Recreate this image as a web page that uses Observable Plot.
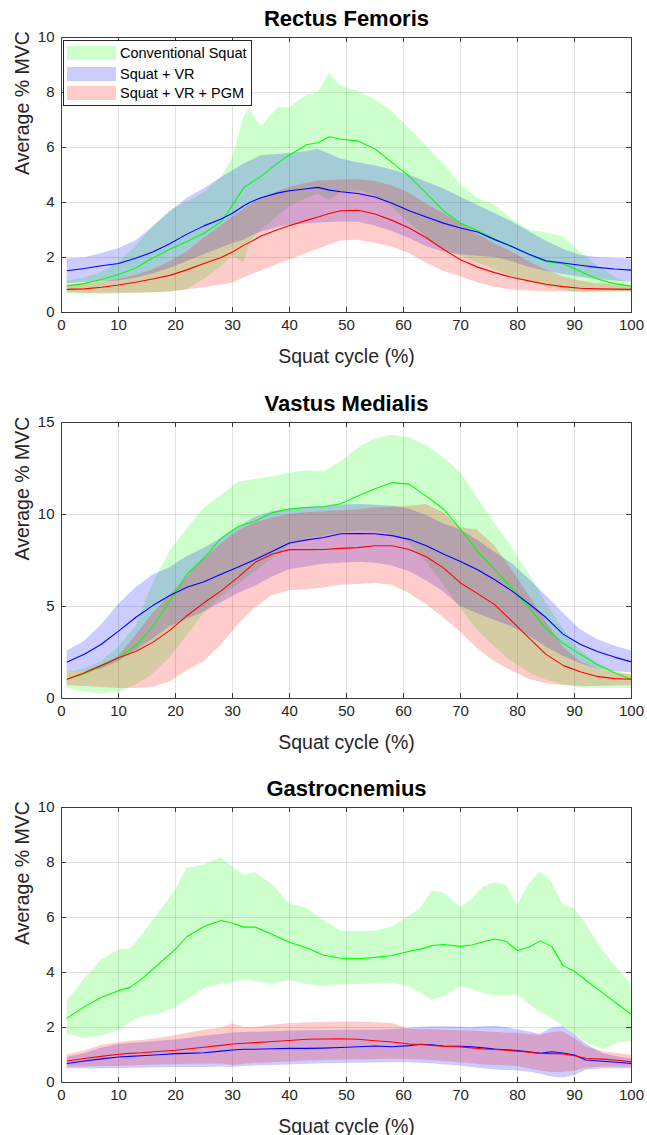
<!DOCTYPE html>
<html><head><meta charset="utf-8">
<script src="https://cdn.jsdelivr.net/npm/d3@7"></script>
<script src="https://cdn.jsdelivr.net/npm/@observablehq/plot@0.6"></script>
<style>
body{margin:0;background:#fff;width:647px;height:1135px;overflow:hidden;}
.panel{position:relative;width:647px;}
.panel svg{display:block;}
.legend{position:absolute;left:63px;top:40px;width:189px;height:66px;border:1px solid #262626;background:#fff;box-sizing:border-box;font:14.5px "Liberation Sans",Arial,sans-serif;color:#000;}
.legend .row{position:absolute;left:3px;height:15px;display:flex;align-items:center;white-space:nowrap;}
.legend .sw{width:49px;height:14px;margin-right:4px;flex:none;}
</style></head><body>
<div id="charts"></div>
<script>
// ---------- shared ----------
const seriesNames = ["Conventional Squat", "Squat + VR", "Squat + VR + PGM"];
const seriesColors = ["#00ff00", "#0000ff", "#ff0000"];
const xTicks = [0, 10, 20, 30, 40, 50, 60, 70, 80, 90, 100];
const xLabel = "Squat cycle (%)";
const yLabel = "Average % MVC";

// ---------- Rectus Femoris ----------
const rfX = [1,4,7,10,13,16,19,22,25,28,30,32,33,35,38,40,43,45,47,49,52,55,58,61,64,67,70,73,76,79,82,85,88,91,94,97,100];
const rfCsMean = [0.96,1.06,1.2,1.38,1.62,1.98,2.3,2.58,2.88,3.3, 3.9,4.55,4.68,4.95,5.45,5.73,6.1,6.17,6.39,6.3, 6.24,5.95,5.45,4.95,4.33,3.7,3.25,2.97,2.67,2.4, 2.12,1.85,1.77,1.5,1.22,1.05,0.96];
const rfCsHi = [1.15,1.25,1.45,1.8,2.4,3.1,3.7,4.0,4.35,4.9, 5.6,7.1,7.4,6.75,7.45,7.45,7.9,7.98,8.7,8.22, 8.05,7.75,7.3,6.7,6.05,5.4,4.65,4.15,3.9,3.4, 3.0,2.9,2.75,2.2,1.7,1.3,1.05];
const rfCsLo = [0.7,0.65,0.65,0.68,0.7,0.72,0.75,0.82,1.2,1.65, 2.05,1.8,2.5,3.0,3.5,3.85,4.15,4.3,4.07,4.35, 4.45,4.25,3.83,3.25,2.75,2.3,2.05,1.8,1.55,1.3, 1.1,0.95,0.8,0.72,0.75,0.75,0.75];
const rfVrMean = [1.52,1.6,1.7,1.78,1.97,2.2,2.5,2.85,3.15,3.4, 3.61,3.88,4.0,4.17,4.35,4.43,4.5,4.55,4.45,4.39, 4.33,4.2,3.97,3.7,3.47,3.25,3.07,2.93,2.65,2.4, 2.12,1.88,1.8,1.72,1.64,1.58,1.54];
const rfVrHi = [1.95,1.98,2.15,2.32,2.6,3.1,3.65,4.15,4.5,4.9, 5.15,5.4,5.5,5.7,5.75,5.78,5.85,5.94,5.76,5.58, 5.45,5.34,5.18,5.0,4.75,4.5,4.19,3.9,3.6,3.3, 2.95,2.6,2.3,2.08,2.0,1.96,1.95];
const rfVrLo = [1.05,1.1,1.12,1.15,1.25,1.4,1.6,1.85,2.1,2.35, 2.5,2.63,2.75,2.92,3.1,3.17,3.22,3.25,3.27,3.29, 3.28,3.15,2.95,2.7,2.4,2.2,2.1,2.05,2.0,1.85, 1.65,1.5,1.38,1.28,1.2,1.15,1.1];
const rfPgmMean = [0.84,0.86,0.92,1.0,1.1,1.22,1.35,1.55,1.78,2.0, 2.2,2.45,2.55,2.78,3.02,3.16,3.35,3.47,3.6,3.7, 3.72,3.58,3.35,3.07,2.72,2.3,1.92,1.65,1.45,1.28, 1.15,1.03,0.94,0.88,0.86,0.85,0.84];
const rfPgmHi = [1.0,1.05,1.1,1.2,1.35,1.55,1.85,2.2,2.7,3.15, 3.47,3.75,3.9,4.13,4.4,4.55,4.7,4.78,4.8,4.82, 4.83,4.77,4.6,4.35,3.95,3.6,3.23,2.85,2.5,2.2, 1.85,1.55,1.3,1.15,1.05,1.0,0.98];
const rfPgmLo = [0.72,0.7,0.7,0.7,0.7,0.72,0.75,0.82,0.9,1.0, 1.06,1.25,1.35,1.5,1.75,1.9,2.15,2.3,2.45,2.6, 2.63,2.52,2.38,2.15,1.8,1.5,1.3,1.08,0.92,0.82, 0.78,0.75,0.75,0.75,0.75,0.75,0.75];
const rfYTicks = [0, 2, 4, 6, 8, 10];

// ---------- Vastus Medialis ----------
const vmX = [1,4,7,10,13,16,19,22,25,28,31,34,37,40,43,46,49,52,55,58,61,64,67,70,73,76,79,82,85,88,91,94,97,100];
const vmCsMean = [1.05,1.35,1.75,2.22,2.85,3.9,5.3,6.75,7.65,8.7, 9.35,9.65,10.1,10.3,10.38,10.42,10.58,11.0,11.4,11.73, 11.65,11.0,10.3,9.2,8.0,7.0,6.0,4.95,3.8,3.0, 2.4,1.85,1.4,1.05];
const vmCsHi = [1.4,1.6,2.0,2.8,3.9,6.2,8.0,9.2,10.35,11.0, 11.75,11.9,12.05,12.24,12.38,12.33,12.85,13.6,14.1,14.31, 14.18,13.75,13.1,12.3,10.9,9.53,8.2,6.8,5.2,3.8, 2.6,1.9,1.5,1.25];
const vmCsLo = [0.55,0.35,0.25,0.32,0.7,1.3,2.2,3.4,4.6,5.5, 6.2,6.9,7.6,8.3,8.7,8.85,9.0,9.1,9.1,8.9, 8.4,7.4,6.2,4.9,3.7,2.8,2.0,1.4,1.0,0.75, 0.6,0.55,0.55,0.55];
const vmVrMean = [1.99,2.4,2.95,3.66,4.4,5.05,5.6,6.05,6.35,6.75, 7.15,7.55,8.0,8.45,8.62,8.75,8.95,8.97,8.95,8.85, 8.65,8.3,7.85,7.45,7.0,6.45,5.85,5.15,4.4,3.5, 2.95,2.55,2.25,1.99];
const vmVrHi = [2.58,3.1,4.0,5.1,6.0,6.7,7.1,7.7,8.15,8.7, 9.3,9.85,10.15,10.3,10.4,10.43,10.52,10.55,10.5,10.45, 10.3,9.95,9.5,9.17,8.6,7.95,7.35,6.5,5.6,4.65, 3.75,3.2,2.85,2.58];
const vmVrLo = [1.4,1.45,1.6,2.0,2.6,3.2,3.9,4.3,4.7,5.2, 5.7,6.1,6.6,7.0,7.15,7.3,7.35,7.4,7.35,7.2, 6.9,6.4,5.8,5.0,4.6,4.25,3.9,3.4,2.8,2.3, 1.9,1.6,1.45,1.4];
const vmPgmMean = [1.05,1.4,1.8,2.22,2.55,3.05,3.7,4.5,5.2,5.85, 6.6,7.4,7.85,8.09,8.09,8.1,8.16,8.2,8.3,8.3, 8.1,7.7,7.1,6.28,5.7,5.1,4.2,3.3,2.4,1.8, 1.45,1.2,1.08,1.05];
const vmPgmHi = [1.4,1.45,1.7,2.3,3.4,4.6,5.6,6.6,7.6,8.4, 9.1,9.55,9.8,10.0,10.1,10.15,10.2,10.25,10.35,10.4, 10.45,10.55,10.1,9.3,9.15,8.3,7.0,5.6,4.2,2.8, 2.0,1.6,1.4,1.3];
const vmPgmLo = [0.7,0.65,0.6,0.55,0.55,0.6,0.9,1.5,2.0,2.9, 4.0,4.9,5.6,5.85,5.9,6.0,6.15,6.2,6.25,6.15, 5.7,5.1,4.4,3.6,2.7,2.0,1.5,1.05,0.8,0.7, 0.65,0.65,0.68,0.7];
const vmYTicks = [0, 5, 10, 15];

// ---------- Gastrocnemius ----------
const gaX = [1,4,7,10,12,14,17,20,22,25,28,30,32,34,37,40,43,46,49,52,55,58,61,63,65,67,70,72,74,76,78,80,82,84,86,88,90,92,95,98,100];
const gaCsMean = [2.35,2.75,3.1,3.34,3.46,3.75,4.3,4.85,5.3,5.67, 5.89,5.79,5.65,5.65,5.38,5.1,4.9,4.63,4.52,4.5, 4.55,4.62,4.77,4.85,4.98,5.02,4.95,5.0,5.12,5.22, 5.13,4.8,4.92,5.15,4.95,4.25,4.04,3.72,3.25,2.78, 2.47];
const gaCsHi = [2.96,3.75,4.45,4.83,4.85,5.31,6.15,6.97,7.78,7.92, 8.17,7.84,7.54,7.64,7.2,6.5,6.33,5.9,5.5,5.49, 5.5,5.65,6.05,6.33,6.96,6.9,6.36,6.65,7.1,7.27, 7.18,6.45,7.2,7.66,7.3,6.45,6.33,5.76,4.8,4.04, 3.56];
const gaCsLo = [1.75,1.6,1.69,1.87,2.17,2.4,2.48,2.71,3.0,3.4, 3.57,3.62,3.74,3.68,3.58,3.7,3.56,3.5,3.55,3.56, 3.58,3.62,3.48,3.26,2.99,3.1,3.5,3.38,3.24,3.16, 3.15,3.2,2.85,2.55,2.35,2.05,1.75,1.45,1.2,1.45, 1.5];
const gaVrMean = [0.69,0.78,0.86,0.93,0.95,0.97,1.01,1.05,1.06,1.08, 1.14,1.18,1.21,1.21,1.23,1.24,1.24,1.25,1.27,1.3, 1.33,1.3,1.34,1.39,1.37,1.33,1.32,1.3,1.26,1.22, 1.19,1.16,1.12,1.06,1.12,1.07,1.0,0.82,0.77,0.73, 0.69];
const gaVrHi = [0.92,1.05,1.25,1.38,1.42,1.45,1.5,1.55,1.6,1.68, 1.75,1.8,1.82,1.83,1.85,1.87,1.88,1.88,1.9,1.9, 1.9,1.93,1.96,2.01,2.03,2.03,2.02,2.0,2.03,2.05, 2.0,1.92,1.85,1.75,1.98,2.04,1.75,1.4,1.05,0.92, 0.86];
const gaVrLo = [0.5,0.5,0.5,0.5,0.52,0.52,0.54,0.55,0.55,0.55, 0.56,0.55,0.58,0.6,0.62,0.64,0.66,0.68,0.69,0.7, 0.71,0.72,0.72,0.7,0.68,0.65,0.6,0.55,0.5,0.46, 0.44,0.42,0.38,0.3,0.2,0.16,0.25,0.45,0.5,0.5, 0.5];
const gaPgmMean = [0.78,0.87,0.95,1.03,1.06,1.08,1.13,1.17,1.22,1.28, 1.35,1.4,1.43,1.45,1.49,1.53,1.57,1.58,1.59,1.57, 1.52,1.47,1.4,1.38,1.35,1.32,1.29,1.26,1.22,1.2, 1.17,1.14,1.1,1.06,1.05,1.04,0.97,0.88,0.85,0.8, 0.75];
const gaPgmHi = [1.0,1.15,1.35,1.45,1.5,1.53,1.6,1.7,1.78,1.9, 1.97,2.14,2.0,2.01,2.08,2.14,2.16,2.18,2.2,2.2, 2.17,2.15,1.95,1.92,1.92,1.9,1.88,1.87,1.85,1.83, 1.8,1.78,1.75,1.72,1.82,1.85,1.6,1.3,1.12,1.05, 0.98];
const gaPgmLo = [0.56,0.56,0.58,0.58,0.6,0.62,0.64,0.65,0.66,0.66, 0.67,0.62,0.66,0.7,0.72,0.75,0.78,0.8,0.82,0.83, 0.84,0.85,0.84,0.82,0.8,0.76,0.72,0.68,0.64,0.62, 0.6,0.58,0.5,0.42,0.36,0.36,0.42,0.52,0.56,0.56, 0.56];
const gaYTicks = [0, 2, 4, 6, 8, 10];

// ---------- build ----------
function rows(xs, mean, lo, hi) {
  return xs.map((x, i) => ({x, mean: mean[i], lo: lo[i], hi: hi[i]}));
}

const panels = [
  {title: "Rectus Femoris", yTicks: rfYTicks, height: 385, bottom: 73, legend: true,
   groups: [rows(rfX, rfCsMean, rfCsLo, rfCsHi), rows(rfX, rfVrMean, rfVrLo, rfVrHi), rows(rfX, rfPgmMean, rfPgmLo, rfPgmHi)]},
  {title: "Vastus Medialis", yTicks: vmYTicks, height: 385, bottom: 72,
   groups: [rows(vmX, vmCsMean, vmCsLo, vmCsHi), rows(vmX, vmVrMean, vmVrLo, vmVrHi), rows(vmX, vmPgmMean, vmPgmLo, vmPgmHi)]},
  {title: "Gastrocnemius", yTicks: gaYTicks, height: 365, bottom: 53,
   groups: [rows(gaX, gaCsMean, gaCsLo, gaCsHi), rows(gaX, gaVrMean, gaVrLo, gaVrHi), rows(gaX, gaPgmMean, gaPgmLo, gaPgmHi)]}
];

const W = 647, ML = 61, MR = 16, MT = 37;
const axisColor = "#3c3c3c";
const container = document.getElementById("charts");

for (const p of panels) {
  const H = p.height - MT - p.bottom;
  const IW = W - ML - MR;
  const yMax = p.yTicks[p.yTicks.length - 1];
  const chart = Plot.plot({
    width: W, height: p.height,
    marginLeft: ML, marginRight: MR, marginTop: MT, marginBottom: p.bottom,
    x: {domain: [0, 100]},
    y: {domain: [0, yMax]},
    style: {fontFamily: '"Liberation Sans", Arial, sans-serif', color: "#262626", background: "#fff", overflow: "visible"},
    marks: [
      Plot.gridX(xTicks, {stroke: "#000", strokeOpacity: 0.12}),
      Plot.gridY(p.yTicks, {stroke: "#000", strokeOpacity: 0.12}),
      ...p.groups.map((g, i) => Plot.areaY(g, {x: "x", y1: "lo", y2: "hi", fill: seriesColors[i], fillOpacity: 0.2})),
      ...p.groups.map((g, i) => Plot.lineY(g, {x: "x", y: "mean", stroke: seriesColors[i], strokeWidth: 1.1})),
      Plot.frame({stroke: axisColor}),
      Plot.tickX(xTicks, {x: d => d, insetTop: H - 5, stroke: axisColor}),
      Plot.tickX(xTicks, {x: d => d, insetBottom: H - 5, stroke: axisColor}),
      Plot.tickY(p.yTicks, {y: d => d, insetRight: IW - 5, stroke: axisColor}),
      Plot.tickY(p.yTicks, {y: d => d, insetLeft: IW - 5, stroke: axisColor}),
      Plot.axisX(xTicks, {tickSize: 0, tickPadding: 7, fontSize: 15, label: null}),
      Plot.axisY(p.yTicks, {tickSize: 0, tickPadding: 7, fontSize: 15, label: null}),
      Plot.text([p.title], {text: d => d, frameAnchor: "top", dy: -19, lineAnchor: "middle", fontSize: 22, fontWeight: "bold", fill: "#000"}),
      Plot.text([xLabel], {text: d => d, frameAnchor: "bottom", dy: 44, lineAnchor: "middle", fontSize: 19.5, fill: "#262626"}),
      Plot.text([yLabel], {text: d => d, frameAnchor: "left", dx: -39, rotate: -90, lineAnchor: "middle", fontSize: 19.5, fill: "#262626"})
    ]
  });
  const div = document.createElement("div");
  div.className = "panel";
  div.appendChild(chart);
  if (p.legend) {
    const lg = document.createElement("div");
    lg.className = "legend";
    const tops = [4, 25, 44];
    seriesNames.forEach((name, i) => {
      const row = document.createElement("div");
      row.className = "row";
      row.style.top = tops[i] + "px";
      const sw = document.createElement("div");
      sw.className = "sw";
      sw.style.background = seriesColors[i];
      sw.style.opacity = "0.2";
      const tx = document.createElement("span");
      tx.textContent = name;
      row.appendChild(sw);
      row.appendChild(tx);
      lg.appendChild(row);
    });
    div.appendChild(lg);
  }
  container.appendChild(div);
}
</script></body></html>
